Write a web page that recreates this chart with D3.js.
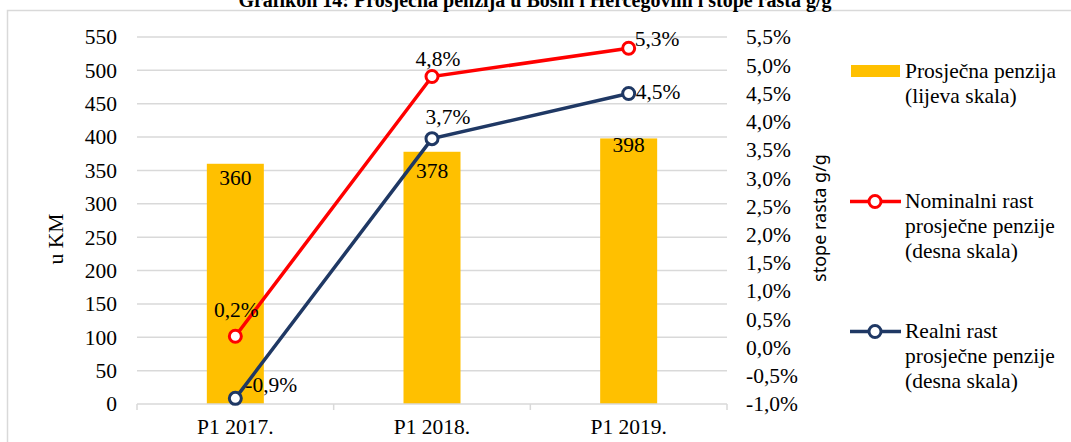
<!DOCTYPE html>
<html>
<head>
<meta charset="utf-8">
<script src="https://cdn.jsdelivr.net/npm/d3@7"></script>
<style>
  body { margin: 0; background: #fff; }
  svg text { font-family: "Liberation Serif", "Times New Roman", serif; fill: #000; }
</style>
</head>
<body>
<div id="chart"></div>
<script>
// chart data
var categories = ["P1 2017.", "P1 2018.", "P1 2019."];
var pension = [360, 378, 398];
var nominalGrowth = [0.2, 4.8, 5.3];
var realGrowth = [-0.9, 3.7, 4.5];
var leftTicks = [0, 50, 100, 150, 200, 250, 300, 350, 400, 450, 500, 550];
var rightTicks = [-1.0, -0.5, 0.0, 0.5, 1.0, 1.5, 2.0, 2.5, 3.0, 3.5, 4.0, 4.5, 5.0, 5.5];
var legendLabels = [
  ["Prosječna penzija", "(lijeva skala)"],
  ["Nominalni rast", "prosječne penzije", "(desna skala)"],
  ["Realni rast", "prosječne penzije", "(desna skala)"]
];

var W = 1071, H = 442;
var plot = {left: 137, right: 727, top: 37, bottom: 404};
var gold = "#FFC000", red = "#FF0000", navy = "#1F3864", grid = "#D9D9D9";
var serif = "'Liberation Serif', 'Times New Roman', serif";

var svg = d3.select("#chart").append("svg")
    .attr("width", W)
    .attr("height", H)
    .style("font-family", serif);

// outer frame
svg.append("rect")
    .attr("x", 7.5).attr("y", 10.5)
    .attr("width", W + 10).attr("height", H + 10)
    .attr("fill", "none").attr("stroke", grid).attr("stroke-width", 1.5);

// title (clipped at the top like the original)
svg.append("text")
    .attr("x", 535).attr("y", 7)
    .attr("text-anchor", "middle")
    .style("font-weight", "bold").style("font-size", "20px")
    .text("Grafikon 14: Prosječna penzija u Bosni i Hercegovini i stope rasta g/g");

var x = d3.scaleBand().domain(categories).range([plot.left, plot.right]);
var yL = d3.scaleLinear().domain([0, 550]).range([plot.bottom, plot.top]);
var yR = d3.scaleLinear().domain([-1, 5.5]).range([plot.bottom, plot.top]);
var cx = function(c) { return x(c) + x.bandwidth() / 2; };
var pct = function(v) { return v.toFixed(1).replace(".", ",") + "%"; };

// gridlines
svg.append("g")
    .selectAll("line")
    .data(leftTicks.filter(function(d) { return d > 0; }))
    .join("line")
    .attr("x1", plot.left).attr("x2", plot.right)
    .attr("y1", function(d) { return yL(d); })
    .attr("y2", function(d) { return yL(d); })
    .attr("stroke", grid).attr("stroke-width", 1.5);

// left axis
var gl = svg.append("g")
    .attr("transform", "translate(" + plot.left + ",0)")
    .call(d3.axisLeft(yL).tickValues(leftTicks).tickSize(0).tickPadding(20));
gl.attr("font-family", null).attr("font-size", null);
gl.select(".domain").remove();
gl.selectAll("text").style("font-family", serif).style("font-size", "21.5px");

// right axis
var gr = svg.append("g")
    .attr("transform", "translate(" + plot.right + ",0)")
    .call(d3.axisRight(yR).tickValues(rightTicks).tickSize(0).tickPadding(19).tickFormat(pct));
gr.attr("font-family", null).attr("font-size", null);
gr.select(".domain").remove();
gr.selectAll("text").style("font-family", serif).style("font-size", "21.5px");

// bars
svg.append("g")
    .selectAll("rect")
    .data(pension)
    .join("rect")
    .attr("x", function(d, i) { return cx(categories[i]) - 28.5; })
    .attr("width", 57)
    .attr("y", function(d) { return yL(d); })
    .attr("height", function(d) { return yL(0) - yL(d); })
    .attr("fill", gold);

// bar labels (nudged like the original)
var barDy = [21, 26, 14];
svg.append("g")
    .selectAll("text")
    .data(pension)
    .join("text")
    .attr("x", function(d, i) { return cx(categories[i]); })
    .attr("y", function(d, i) { return yL(d) + barDy[i]; })
    .attr("text-anchor", "middle")
    .style("font-size", "21.5px")
    .text(function(d) { return d; });

// x axis
var gx = svg.append("g")
    .attr("transform", "translate(0," + plot.bottom + ")");
gx.append("line")
    .attr("x1", plot.left).attr("x2", plot.right)
    .attr("stroke", grid).attr("stroke-width", 1.5);
gx.selectAll(".tk")
    .data(categories.concat([null]))
    .join("line")
    .attr("class", "tk")
    .attr("x1", function(d) { return d ? x(d) : plot.right; })
    .attr("x2", function(d) { return d ? x(d) : plot.right; })
    .attr("y1", 0).attr("y2", 6)
    .attr("stroke", grid).attr("stroke-width", 1.5);
gx.selectAll(".cl")
    .data(categories)
    .join("text")
    .attr("class", "cl")
    .attr("x", cx)
    .attr("y", 30)
    .attr("text-anchor", "middle")
    .style("font-size", "21.5px")
    .text(function(d) { return d; });

// axis titles
svg.append("text")
    .attr("transform", "translate(63,239) rotate(-90)")
    .attr("text-anchor", "middle")
    .style("font-size", "21.5px")
    .text("u KM");
svg.append("text")
    .attr("transform", "translate(826,218) rotate(-90)")
    .attr("text-anchor", "middle")
    .style("font-family", "'Noto Sans', sans-serif")
    .style("font-size", "18px")
    .text("stope rasta g/g");

// lines
var line = d3.line()
    .x(function(d, i) { return cx(categories[i]); })
    .y(function(d) { return yR(d); });

function drawSeries(values, color, labelPos) {
    svg.append("path")
        .datum(values)
        .attr("d", line)
        .attr("fill", "none")
        .attr("stroke", color)
        .attr("stroke-width", 3.5);
    svg.append("g")
        .selectAll("circle")
        .data(values)
        .join("circle")
        .attr("cx", function(d, i) { return cx(categories[i]); })
        .attr("cy", function(d) { return yR(d); })
        .attr("r", 6)
        .attr("fill", "#fff")
        .attr("stroke", color)
        .attr("stroke-width", 3);
    svg.append("g")
        .selectAll("text")
        .data(values)
        .join("text")
        .attr("x", function(d, i) { return cx(categories[i]) + labelPos[i][0]; })
        .attr("y", function(d, i) { return yR(d) + labelPos[i][1]; })
        .attr("text-anchor", function(d, i) { return labelPos[i][2]; })
        .style("font-size", "21.5px")
        .text(pct);
}

drawSeries(nominalGrowth, red, [[1, -19, "middle"], [6, -11, "middle"], [6, -2, "start"]]);
drawSeries(realGrowth, navy, [[10, -6, "start"], [16, -15, "middle"], [7, 6, "start"]]);

// legend
var lg = svg.append("g");
lg.append("rect")
    .attr("x", 851).attr("y", 65)
    .attr("width", 49).attr("height", 12)
    .attr("fill", gold);
[[red, 201.5], [navy, 331.5]].forEach(function(s) {
    lg.append("line")
        .attr("x1", 850).attr("x2", 901)
        .attr("y1", s[1]).attr("y2", s[1])
        .attr("stroke", s[0]).attr("stroke-width", 3.5);
    lg.append("circle")
        .attr("cx", 875).attr("cy", s[1]).attr("r", 6)
        .attr("fill", "#fff").attr("stroke", s[0]).attr("stroke-width", 3);
});
var legendTop = [78, 208, 338];
legendLabels.forEach(function(lines, k) {
    var t = lg.append("text")
        .attr("x", 905).attr("y", legendTop[k])
        .style("font-size", "21.5px");
    lines.forEach(function(s, j) {
        t.append("tspan").attr("x", 905).attr("dy", j ? 25 : 0).text(s);
    });
});
</script>
</body>
</html>
